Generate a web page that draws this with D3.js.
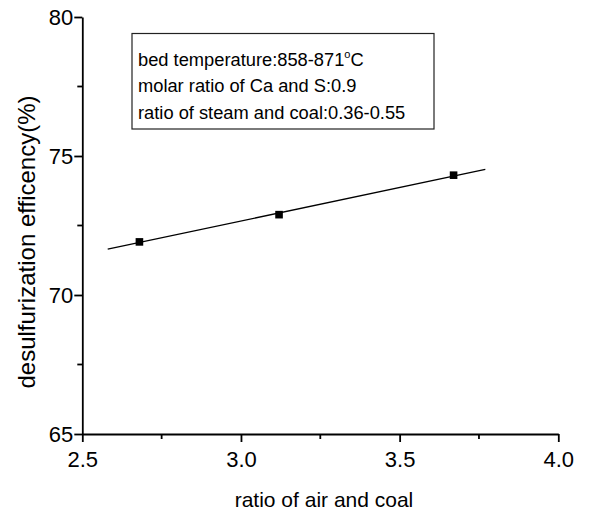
<!DOCTYPE html>
<html>
<head>
<meta charset="utf-8">
<script src="https://cdn.jsdelivr.net/npm/d3@7"></script>
<style>
  body { margin: 0; background: #fff; }
  text { font-family: "Liberation Sans", Arial, sans-serif; fill: #000; }
</style>
</head>
<body>
<svg id="chart" width="590" height="512"></svg>
<script>
// data
const airCoal = [2.68, 3.12, 3.67];
const efficiency = [71.91, 72.89, 74.31];
const fitX = [2.58, 3.77];
const fitY = [71.65, 74.52];
const xTicks = [2.5, 3.0, 3.5, 4.0];
const yTicks = [65, 70, 75, 80];
const xMinor = [2.75, 3.25, 3.75];
const yMinor = [67.5, 72.5, 77.5];
const notes = [
  "bed temperature:858-871",
  "molar ratio of Ca and S:0.9",
  "ratio of steam and coal:0.36-0.55"
];

const svg = d3.select("#chart");
const plotLeft = 82.3, plotRight = 558.3, plotTop = 17, plotBottom = 434;

const x = d3.scaleLinear().domain([2.5, 4.0]).range([plotLeft, plotRight]);
const y = d3.scaleLinear().domain([65, 80]).range([plotBottom, plotTop]);

// axes
const xAxis = svg.append("g").attr("transform", `translate(0,${plotBottom})`)
    .call(d3.axisBottom(x).tickValues(xTicks).tickFormat(d3.format(".1f")).tickSize(8).tickSizeOuter(0));
const yAxis = svg.append("g").attr("transform", `translate(${plotLeft},0)`)
    .call(d3.axisLeft(y).tickValues(yTicks).tickFormat(d3.format("d")).tickSize(8).tickSizeOuter(0));

// minor ticks
xAxis.selectAll(".minor").data(xMinor).join("line")
    .attr("class", "minor")
    .attr("x1", d => x(d)).attr("x2", d => x(d)).attr("y1", 0).attr("y2", 5)
    .attr("stroke", "#000").attr("stroke-width", 1.8);
yAxis.selectAll(".minor").data(yMinor).join("line")
    .attr("class", "minor")
    .attr("y1", d => y(d)).attr("y2", d => y(d)).attr("x1", 0).attr("x2", -5)
    .attr("stroke", "#000").attr("stroke-width", 1.8);

[xAxis, yAxis].forEach(g => {
  g.select(".domain").attr("stroke-width", 1.8);
  g.selectAll(".tick line").attr("stroke-width", 1.8);
  g.selectAll(".tick text").attr("font-size", 22).attr("font-family", "Liberation Sans, Arial, sans-serif");
});
xAxis.selectAll(".tick text").attr("y", 32.5).attr("dy", 0);
yAxis.selectAll(".tick text").attr("x", -9).attr("dy", "0.36em");

// fit line
svg.append("path")
    .datum(fitX.map((d, i) => [d, fitY[i]]))
    .attr("d", d3.line().x(d => x(d[0])).y(d => y(d[1])))
    .attr("fill", "none").attr("stroke", "#000").attr("stroke-width", 1.3);

// points
svg.selectAll(".pt").data(airCoal.map((d, i) => [d, efficiency[i]])).join("rect")
    .attr("class", "pt")
    .attr("x", d => x(d[0]) - 3.8).attr("y", d => y(d[1]) - 3.8)
    .attr("width", 7.6).attr("height", 7.6).attr("fill", "#000");

// labels
svg.append("text").attr("x", 324).attr("y", 507)
    .attr("text-anchor", "middle").attr("font-size", 21).text("ratio of air and coal");
svg.append("text").attr("transform", "translate(35,242) rotate(-90)")
    .attr("text-anchor", "middle").attr("font-size", 24).text("desulfurization efficency(%)");

// note box
const box = svg.append("g");
box.append("rect").attr("x", 132).attr("y", 33.5).attr("width", 302).attr("height", 95.5)
    .attr("fill", "#fff").attr("stroke", "#222").attr("stroke-width", 1.2);
const lines = box.selectAll("text").data(notes).join("text")
    .attr("x", 138).attr("y", (d, i) => 66 + i * 26.3)
    .attr("font-size", 18.3);
lines.text(d => d);
lines.filter((d, i) => i === 0).append("tspan").attr("dy", -8).attr("font-size", 11).text("o");
lines.filter((d, i) => i === 0).append("tspan").attr("dy", 8).text("C");
</script>
</body>
</html>
